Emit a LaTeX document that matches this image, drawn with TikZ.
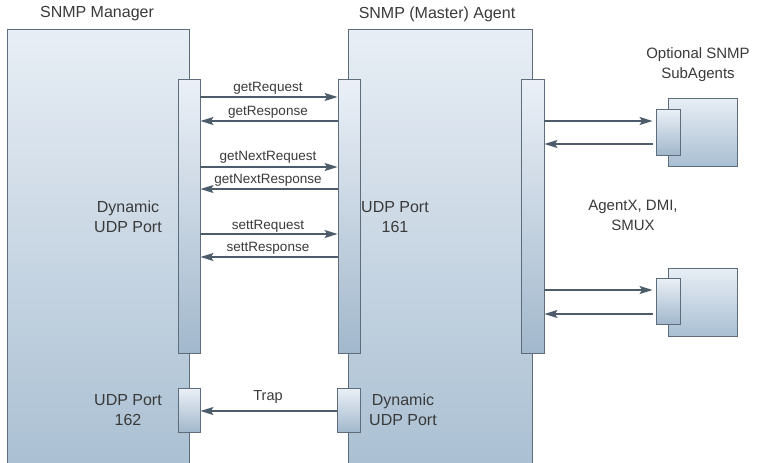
\documentclass[tikz,border=0pt]{standalone}
\usepackage{fontspec}
\setmainfont{Liberation Sans}
\usetikzlibrary{arrows.meta}
\definecolor{edge}{HTML}{5E6D7B}
\definecolor{wire}{HTML}{4C5C6A}
\definecolor{ink}{HTML}{3A3A3A}
\definecolor{boxtop}{HTML}{E8EEF5}
\definecolor{boxbot}{HTML}{A9BFD2}
\definecolor{bartop}{HTML}{EBF0F7}
\definecolor{barbot}{HTML}{A2B8CC}
\tikzset{
  entity/.style={draw=edge, line width=0.9pt, top color=boxtop, bottom color=boxbot,
    minimum width=#1, inner sep=0pt, anchor=center},
  portbar/.style={draw=edge, line width=0.9pt, top color=bartop, bottom color=barbot,
    inner sep=0pt},
  msg/.style={draw=wire, line width=1.1pt, -{Stealth[length=13pt,width=8pt,inset=2.5pt]}},
  lbl/.style={text=ink, font=\fontsize{13.5}{15}\selectfont, inner sep=0pt},
  caption/.style={text=ink, font=\fontsize{16}{20}\selectfont, align=center, inner sep=0pt},
  title/.style={text=ink, font=\fontsize{16}{20}\selectfont, inner sep=0pt},
}
\begin{document}
\begin{tikzpicture}[x=1pt,y=-1pt]
\useasboundingbox[fill=white] (0,0) rectangle (761,463);

% main hosts (they run on past the lower edge of the page)
\node[entity=182pt, minimum height=445pt] (mgr) at (98,251.5) {};
\node[entity=184pt, minimum height=445pt] (agt) at (440,251.5) {};

% ports
\node[portbar, minimum width=22pt, minimum height=274pt] (mport) at (189,216) {};
\node[portbar, minimum width=22pt, minimum height=274pt] (aport) at (349,216) {};
\node[portbar, minimum width=23pt, minimum height=274pt] (sport) at (532.5,216) {};
\node[portbar, minimum width=22pt, minimum height=44pt] (mtrap) at (189,410) {};
\node[portbar, minimum width=23pt, minimum height=44pt] (atrap) at (348.5,410) {};

% subagents
\node[entity=69pt, minimum height=68pt] (sub1) at (702.5,132) {};
\node[portbar, minimum width=24pt, minimum height=46pt] (sub1p) at (668,132) {};
\node[entity=69pt, minimum height=68pt] (sub2) at (702.5,302) {};
\node[portbar, minimum width=24pt, minimum height=46pt] (sub2p) at (668,301) {};

% titles and captions
\node[title] (tmgr) at (97,14) {SNMP Manager};
\node[title] (tagt) at (437,14) {SNMP (Master) Agent};
\node[caption, font=\fontsize{15}{20}\selectfont] (tsub) at (698,65) {Optional SNMP\\SubAgents};
\node[caption, font=\fontsize{15}{20}\selectfont] (tproto) at (633,215) {AgentX, DMI,\\SMUX};
\node[caption] (tmdyn) at (128,217) {Dynamic\\UDP Port};
\node[caption] (ta161) at (395,217) {UDP Port\\161};
\node[caption] (tm162) at (128,410) {UDP Port\\162};
\node[caption] (tadyn) at (403,410) {Dynamic\\UDP Port};

% request / response exchanges
\draw[msg] (mport.east |- 0,97)  -- (aport.west |- 0,97);
\draw[msg] (aport.west |- 0,121) -- (mport.east |- 0,121);
\draw[msg] (mport.east |- 0,167) -- (aport.west |- 0,167);
\draw[msg] (aport.west |- 0,189) -- (mport.east |- 0,189);
\draw[msg] (mport.east |- 0,234) -- (aport.west |- 0,234);
\draw[msg] (aport.west |- 0,257) -- (mport.east |- 0,257);
\node[lbl] (l1) at (268,88)  {getRequest};
\node[lbl] (l2) at (268,112) {getResponse};
\node[lbl] (l3) at (268,157) {getNextRequest};
\node[lbl] (l4) at (268,180) {getNextResponse};
\node[lbl] (l5) at (268,226) {settRequest};
\node[lbl] (l6) at (268,248) {settResponse};

% trap
\draw[msg] (atrap.west |- 0,411) -- (mtrap.east |- 0,411);
\node[lbl, font=\fontsize{14.5}{16}\selectfont] (l7) at (268,397) {Trap};

% subagent links
\draw[msg] (sport.east |- 0,121) -- ([xshift=-3pt]sub1p.west |- 0,121);
\draw[msg] ([xshift=-3pt]sub1p.west |- 0,144) -- (sport.east |- 0,144);
\draw[msg] (sport.east |- 0,290) -- ([xshift=-3pt]sub2p.west |- 0,290);
\draw[msg] ([xshift=-3pt]sub2p.west |- 0,314) -- (sport.east |- 0,314);
\end{tikzpicture}
\end{document}
